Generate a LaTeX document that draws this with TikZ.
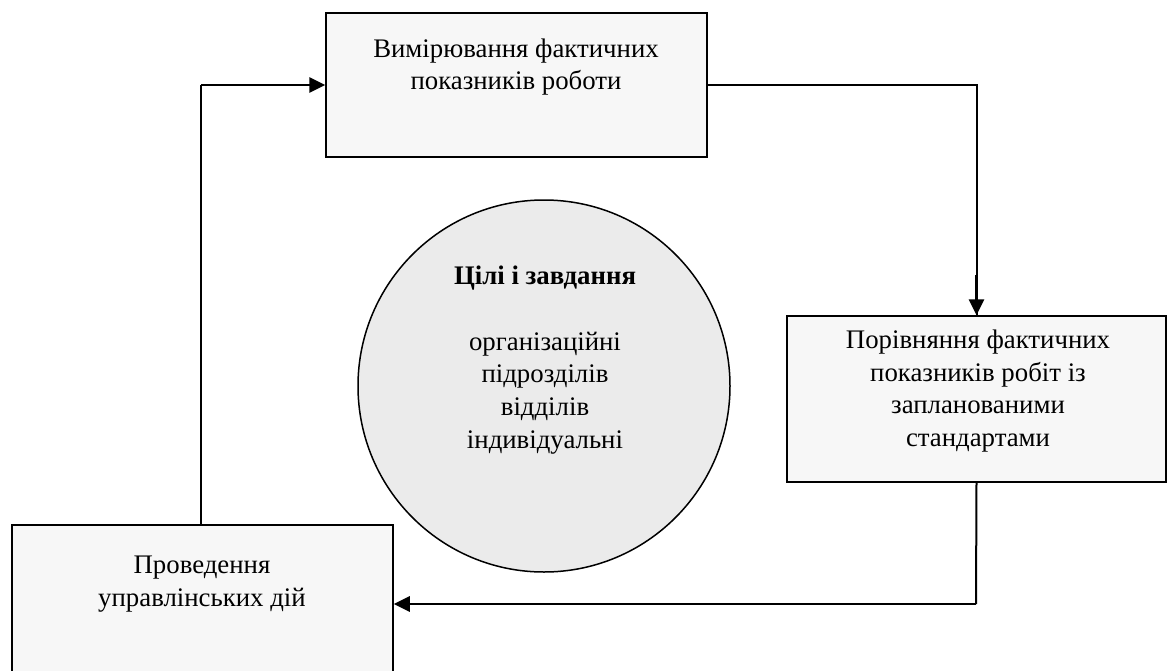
\documentclass[tikz,border=0pt]{standalone}
\usepackage{fontspec}
\setmainfont{Liberation Serif}
\usetikzlibrary{arrows.meta}
\begin{document}
\begin{tikzpicture}[x=1pt,y=-1pt,
  box/.style={draw=black, line width=1.5pt, fill=boxgray, inner sep=0pt},
  txt/.style={align=center, font=\fontsize{26.8}{32.8}\selectfont, inner sep=0pt},
  conn/.style={line width=2.8pt, -{Triangle[length=16pt,width=15pt]}},
  plain/.style={line width=2pt}]
\definecolor{boxgray}{HTML}{F7F7F7}
\definecolor{circgray}{HTML}{EBEBEB}
\clip (0,0) rectangle (1168,670);
\fill[white] (0,0) rectangle (1168,670);
% boxes
\node[box, minimum width=381pt, minimum height=144pt] (top) at (516.5,85) {};
\node[box, minimum width=379pt, minimum height=166pt] (right) at (976.5,399) {};
\node[box, minimum width=381pt, minimum height=155pt] (bl) at (202.5,602.5) {};
\node[draw=black, line width=1.5pt, fill=circgray, circle, minimum size=372pt, inner sep=0pt] (goal) at (544,386) {};
% texts
\node[txt] (toptxt) at (516,67) {Вимірювання фактичних\\показників роботи};
\node[txt] (righttxt) at (978,391) {Порівняння фактичних\\показників робіт із\\запланованими\\стандартами};
\node[txt] (bltxt) at (202,584) {Проведення\\управлінських дій};
\node[txt] (goaltxt) at (545,360) {\textbf{Цілі і завдання}\\[32.8pt]організаційні\\підрозділів\\відділів\\індивідуальні};
% connectors
\coordinate (c1) at (201,85);
\draw[plain] (bl.north -| c1) -- (c1);
\draw[conn] (c1) -- (top.west);
\draw[plain] (top.east) -| (right.north);
\draw[conn] ([yshift=40pt]right.north) -- (right.north);
\coordinate (c3) at (976,604);
\draw[plain] (right.south) -- (c3);
\draw[conn] (c3) -- (c3 -| bl.east);
\end{tikzpicture}
\end{document}
